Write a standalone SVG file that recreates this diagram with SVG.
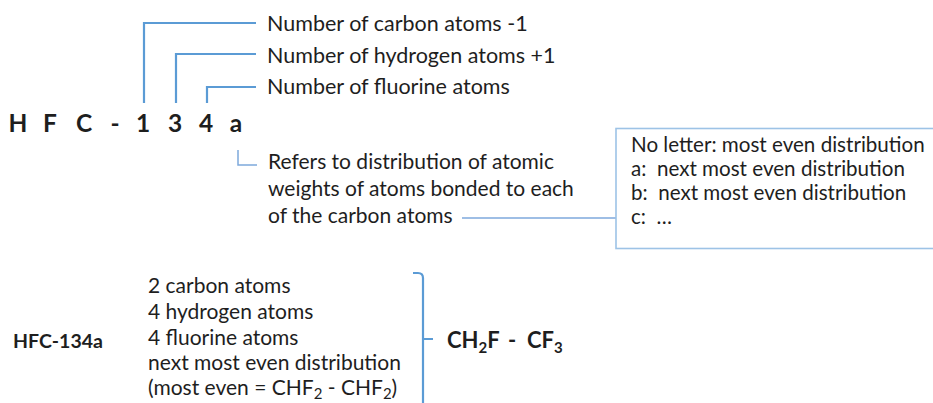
<svg xmlns="http://www.w3.org/2000/svg" width="933" height="403" viewBox="0 0 933 403">
<style>
  text { font-family: Lato, "Open Sans", "Liberation Sans", sans-serif; fill: #1e1e1e; }
  .big { font-size: 24.5px; font-weight: bold; text-anchor: middle; }
  .lbl { font-size: 21.5px; }
  .ref { font-size: 21px; }
  .box { font-size: 20.6px; white-space: pre; }
  .lst { font-size: 21px; }
  .bold { font-weight: bold; }
  .ln { fill: none; stroke: #5b9bd5; stroke-width: 2.2; }
  .thin { fill: none; stroke: #7ea9dc; stroke-width: 1.5; }
</style>
<rect width="933" height="403" fill="#ffffff"/>

<g id="connectors">
  <path class="ln" d="M144,103 V23 H256"/>
  <path class="ln" d="M176,103 V54 H256"/>
  <path class="ln" d="M207,103 V87 H256"/>
  <path class="thin" d="M238,150 V165 H257"/>
  <path class="thin" d="M462,218 H616"/>
  <path class="ln" d="M413,273 H418 Q423,273 423,278 V410 M423,339 H433"/>
</g>

<g id="code">
  <text class="big" x="18" y="132">H</text>
  <text class="big" x="50" y="132">F</text>
  <text class="big" x="84" y="132">C</text>
  <text class="big" x="115" y="132">-</text>
  <text class="big" x="143" y="132">1</text>
  <text class="big" x="175" y="132">3</text>
  <text class="big" x="206" y="132">4</text>
  <text class="big" x="236" y="132">a</text>
</g>

<g id="label-carbon"><text class="lbl" x="267" y="31">Number of carbon atoms -1</text></g>
<g id="label-hydrogen"><text class="lbl" x="267" y="63">Number of hydrogen atoms +1</text></g>
<g id="label-fluorine"><text class="lbl" x="267" y="94">Number of fluorine atoms</text></g>

<g id="label-letter">
  <text class="ref" x="268" y="169">Refers to distribution of atomic</text>
  <text class="ref" x="268" y="196">weights of atoms bonded to each</text>
  <text class="ref" x="268" y="223">of the carbon atoms</text>
</g>

<g id="letter-box">
  <rect x="616" y="128.5" width="330" height="120" fill="#ffffff" stroke="#9dc3e6" stroke-width="1.6"/>
  <text class="box" x="631" y="152">No letter: most even distribution</text>
  <text class="box" x="631" y="176">a:  next most even distribution</text>
  <text class="box" x="631" y="200">b:  next most even distribution</text>
  <text class="box" x="631" y="224">c:  …</text>
</g>

<g id="example-name"><text class="bold" x="13" y="348" style="font-size:19.5px">HFC-134a</text></g>

<g id="example-list">
  <text class="lst" x="148" y="293">2 carbon atoms</text>
  <text class="lst" x="148" y="319">4 hydrogen atoms</text>
  <text class="lst" x="148" y="345">4 fluorine atoms</text>
  <text class="lst" x="148" y="370">next most even distribution</text>
  <text class="lst" x="148" y="395">(most even = CHF<tspan dy="4" font-size="15">2</tspan><tspan dy="-4"> - CHF</tspan><tspan dy="4" font-size="15">2</tspan><tspan dy="-4">)</tspan></text>
</g>

<g id="formula">
  <text class="bold" x="447" y="348" style="font-size:22px">CH<tspan dy="5" font-size="15">2</tspan><tspan dy="-5">F</tspan><tspan x="508">-</tspan><tspan x="527">CF</tspan><tspan dy="5" font-size="15">3</tspan></text>
</g>
</svg>
